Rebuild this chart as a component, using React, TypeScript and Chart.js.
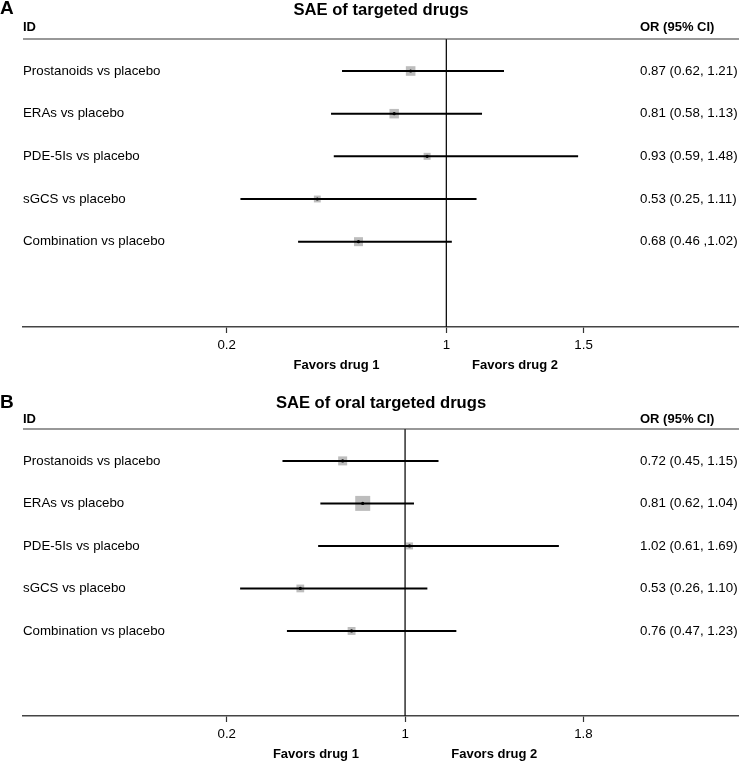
import React, { useEffect, useRef } from 'react';
import { Chart, registerables } from 'chart.js';

Chart.register(...registerables);

// ---------- data ----------
const comparisons = [
  'Prostanoids vs placebo',
  'ERAs vs placebo',
  'PDE-5Is vs placebo',
  'sGCS vs placebo',
  'Combination vs placebo',
];

const orA = [0.87, 0.81, 0.93, 0.53, 0.68];
const lowerA = [0.62, 0.58, 0.59, 0.25, 0.46];
const upperA = [1.21, 1.13, 1.48, 1.11, 1.02];
const weightA = [92, 90, 49, 47, 81];
const ciTextA = ['0.87 (0.62, 1.21)', '0.81 (0.58, 1.13)', '0.93 (0.59, 1.48)', '0.53 (0.25, 1.11)', '0.68 (0.46 ,1.02)'];
const tickValuesA = [0.2, 1, 1.5];
const tickLabelsA = ['0.2', '1', '1.5'];

const orB = [0.72, 0.81, 1.02, 0.53, 0.76];
const lowerB = [0.45, 0.62, 0.61, 0.26, 0.47];
const upperB = [1.15, 1.04, 1.69, 1.1, 1.23];
const weightB = [81, 225, 49, 60, 62];
const ciTextB = ['0.72 (0.45, 1.15)', '0.81 (0.62, 1.04)', '1.02 (0.61, 1.69)', '0.53 (0.26, 1.10)', '0.76 (0.47, 1.23)'];
const tickValuesB = [0.2, 1, 1.8];
const tickLabelsB = ['0.2', '1', '1.8'];

const favorLabels = ['Favors drug 1', 'Favors drug 2'];

// ---------- layout / style ----------
const FONT = '"Liberation Sans", Arial, Helvetica, sans-serif';
const Y_MIN = -0.75;
const Y_MAX = 6;
const COL_X = 640;

type Panel = {
  letter: string;
  title: string;
  or: number[];
  lower: number[];
  upper: number[];
  weight: number[];
  ciText: string[];
  ticks: number[];
  tickLabels: string[];
  xMin: number;
  xMax: number;
  height: number;
  top: number;
  bottom: number;
  letterBase: number;
  titleBase: number;
  headBase: number;
};

const panelA: Panel = {
  letter: 'A',
  title: 'SAE of targeted drugs',
  or: orA, lower: lowerA, upper: upperA, weight: weightA, ciText: ciTextA,
  ticks: tickValuesA, tickLabels: tickLabelsA,
  xMin: -0.542, xMax: 2.066,
  height: 380, top: 39, bottom: 327,
  letterBase: 14, titleBase: 15, headBase: 30.5,
};

const panelB: Panel = {
  letter: 'B',
  title: 'SAE of oral targeted drugs',
  or: orB, lower: lowerB, upper: upperB, weight: weightB, ciText: ciTextB,
  ticks: tickValuesB, tickLabels: tickLabelsB,
  xMin: -0.714, xMax: 2.498,
  height: 381, top: 49, bottom: 336,
  letterBase: 28, titleBase: 28.3, headBase: 43,
};

function makeConfig(p: Panel): any {
  const datasets: any[] = [];
  datasets.push({
    data: [{ x: 1, y: Y_MIN }, { x: 1, y: Y_MAX }],
    showLine: true, borderColor: '#111', borderWidth: 1.3, pointRadius: 0, order: 3,
  });
  p.or.forEach((_, i) => {
    datasets.push({
      data: [{ x: p.lower[i], y: i }, { x: p.upper[i], y: i }],
      showLine: true, borderColor: '#000', borderWidth: 2, pointRadius: 0, order: 1,
    });
  });
  datasets.push({
    data: p.or.map((v, i) => ({ x: v, y: i })),
    pointStyle: 'rect',
    pointRadius: p.weight.map((w) => Math.sqrt(w) / (2 * Math.SQRT1_2)),
    backgroundColor: '#bdbdbd', borderWidth: 0, order: 2,
  });
  datasets.push({
    data: p.or.map((v, i) => ({ x: v, y: i })),
    pointStyle: 'circle', pointRadius: 1.6,
    backgroundColor: '#000', borderWidth: 0, order: 0,
  });

  const textPlugin = {
    id: 'forestText',
    afterDraw(chart: any) {
      const { ctx, chartArea, scales } = chart;
      const xs = scales.x;
      const ys = scales.y;
      ctx.save();
      // top rule
      ctx.strokeStyle = '#333';
      ctx.lineWidth = 1.2;
      ctx.beginPath();
      ctx.moveTo(chartArea.left, chartArea.top);
      ctx.lineTo(chartArea.right, chartArea.top);
      ctx.stroke();

      ctx.fillStyle = '#000';
      ctx.textBaseline = 'alphabetic';
      // panel letter
      ctx.font = `bold 19px ${FONT}`;
      ctx.textAlign = 'left';
      ctx.fillText(p.letter, 0, p.letterBase);
      // title
      ctx.font = `bold 16.6px ${FONT}`;
      ctx.textAlign = 'center';
      ctx.fillText(p.title, (chartArea.left + chartArea.right) / 2, p.titleBase);
      // headers
      ctx.font = `bold 13px ${FONT}`;
      ctx.textAlign = 'left';
      ctx.fillText('ID', chartArea.left, p.headBase);
      ctx.fillText('OR (95% CI)', COL_X, p.headBase);
      // rows
      ctx.font = `13.3px ${FONT}`;
      ctx.textBaseline = 'middle';
      comparisons.forEach((lab, i) => {
        const y = ys.getPixelForValue(i);
        ctx.fillText(lab, chartArea.left, y);
        ctx.fillText(p.ciText[i], COL_X, y);
      });
      // favors labels at midpoints between ticks
      ctx.font = `bold 13px ${FONT}`;
      ctx.textAlign = 'center';
      ctx.textBaseline = 'alphabetic';
      const mids = [(p.ticks[0] + p.ticks[1]) / 2, (p.ticks[1] + p.ticks[2]) / 2];
      mids.forEach((m, i) => {
        ctx.fillText(favorLabels[i], xs.getPixelForValue(m), chartArea.bottom + 42);
      });
      ctx.restore();
    },
  };

  return {
    type: 'scatter',
    data: { datasets },
    plugins: [textPlugin],
    options: {
      animation: false,
      responsive: false,
      events: [],
      layout: { autoPadding: false, padding: { top: p.top, left: 23, right: 0, bottom: 0 } },
      plugins: { legend: { display: false }, tooltip: { enabled: false }, title: { display: false } },
      scales: {
        x: {
          type: 'linear',
          position: 'bottom',
          min: p.xMin,
          max: p.xMax,
          afterBuildTicks: (axis: any) => {
            axis.ticks = p.ticks.map((v) => ({ value: v }));
          },
          afterFit: (axis: any) => {
            axis.height = p.height - p.bottom;
          },
          ticks: {
            autoSkip: false,
            maxRotation: 0,
            padding: 4,
            color: '#000',
            font: { family: FONT, size: 13.3 },
            callback: (_v: any, i: number) => p.tickLabels[i],
          },
          grid: { drawOnChartArea: false, drawTicks: true, tickLength: 6, tickColor: '#333', tickWidth: 1.2 },
          border: { display: true, color: '#444', width: 1.5 },
        },
        y: { type: 'linear', min: Y_MIN, max: Y_MAX, reverse: true, display: false },
      },
    },
  };
}

export default function App() {
  const refA = useRef<HTMLCanvasElement | null>(null);
  const refB = useRef<HTMLCanvasElement | null>(null);
  useEffect(() => {
    const a = new Chart(refA.current as HTMLCanvasElement, makeConfig(panelA));
    const b = new Chart(refB.current as HTMLCanvasElement, makeConfig(panelB));
    return () => {
      a.destroy();
      b.destroy();
    };
  }, []);
  return (
    <div style={{ position: 'absolute', left: 0, top: 0, width: 739, height: 761, background: '#fff' }}>
      <canvas ref={refA} width={739} height={panelA.height} style={{ display: 'block', width: 739, height: panelA.height }} />
      <canvas ref={refB} width={739} height={panelB.height} style={{ display: 'block', width: 739, height: panelB.height }} />
    </div>
  );
}
